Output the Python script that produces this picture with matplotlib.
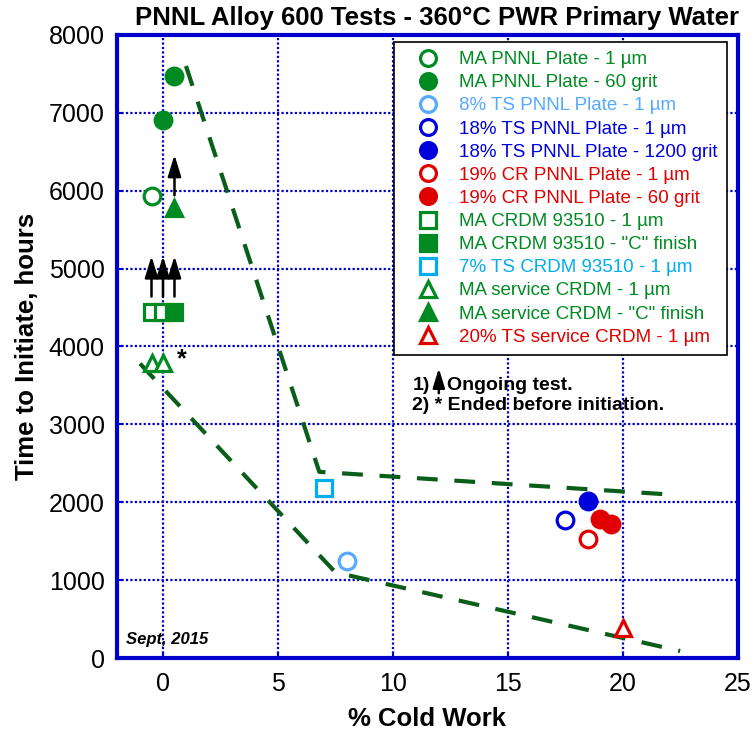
import matplotlib
matplotlib.use('Agg')
import matplotlib.pyplot as plt

plt.rcParams['font.family'] = ['Liberation Sans', 'DejaVu Sans']

GREEN = '#008a22'
LTBLUE = '#55aaff'
CYAN = '#00aeef'
BLUE = '#0000dd'
RED = '#e00000'
DKGREEN = '#0b5e1a'

# data series
ma_plate_1um_x = [-0.5]
ma_plate_1um_y = [5930]
ma_plate_60_x = [0.0, 0.5]
ma_plate_60_y = [6910, 7470]
ts8_plate_x = [8.0]
ts8_plate_y = [1245]
ts18_plate_1um_x = [17.5]
ts18_plate_1um_y = [1770]
ts18_plate_1200_x = [18.5]
ts18_plate_1200_y = [2015]
cr19_plate_1um_x = [18.5]
cr19_plate_1um_y = [1530]
cr19_plate_60_x = [19.0, 19.5]
cr19_plate_60_y = [1785, 1720]
ma_crdm_1um_x = [-0.5, 0.0]
ma_crdm_1um_y = [4440, 4440]
ma_crdm_c_x = [0.5]
ma_crdm_c_y = [4440]
ts7_crdm_x = [7.0]
ts7_crdm_y = [2180]
ma_serv_1um_x = [-0.5, 0.0]
ma_serv_1um_y = [3785, 3785]
ma_serv_c_x = [0.5]
ma_serv_c_y = [5780]
ts20_serv_x = [20.0]
ts20_serv_y = [390]

series = [
    ('MA PNNL Plate - 1 µm', ma_plate_1um_x, ma_plate_1um_y, 'o', False, GREEN),
    ('MA PNNL Plate - 60 grit', ma_plate_60_x, ma_plate_60_y, 'o', True, GREEN),
    ('8% TS PNNL Plate - 1 µm', ts8_plate_x, ts8_plate_y, 'o', False, LTBLUE),
    ('18% TS PNNL Plate - 1 µm', ts18_plate_1um_x, ts18_plate_1um_y, 'o', False, BLUE),
    ('18% TS PNNL Plate - 1200 grit', ts18_plate_1200_x, ts18_plate_1200_y, 'o', True, BLUE),
    ('19% CR PNNL Plate - 1 µm', cr19_plate_1um_x, cr19_plate_1um_y, 'o', False, RED),
    ('19% CR PNNL Plate - 60 grit', cr19_plate_60_x, cr19_plate_60_y, 'o', True, RED),
    ('MA CRDM 93510 - 1 µm', ma_crdm_1um_x, ma_crdm_1um_y, 's', False, GREEN),
    ('MA CRDM 93510 - "C" finish', ma_crdm_c_x, ma_crdm_c_y, 's', True, GREEN),
    ('7% TS CRDM 93510 - 1 µm', ts7_crdm_x, ts7_crdm_y, 's', False, CYAN),
    ('MA service CRDM - 1 µm', ma_serv_1um_x, ma_serv_1um_y, '^', False, GREEN),
    ('MA service CRDM - "C" finish', ma_serv_c_x, ma_serv_c_y, '^', True, GREEN),
    ('20% TS service CRDM - 1 µm', ts20_serv_x, ts20_serv_y, '^', False, RED),
]

# trend lines (dashed)
upper_x = [1.0, 6.8, 22.0]
upper_y = [7600, 2390, 2100]
lower_x = [-1.0, 7.5, 22.5]
lower_y = [3780, 1100, 90]

# ongoing-test arrows: x, start y, end y
arrow_x = [-0.5, 0.0, 0.5, 0.5]
arrow_y0 = [4640, 4640, 4640, 5940]
arrow_y1 = [5160, 5160, 5160, 6460]

ARROW = '-|>,head_width=0.4,head_length=1.3'

fig = plt.figure(figsize=(7.55, 7.34), dpi=100)
ax = fig.add_axes([0.155, 0.1035, 0.822, 0.849])

ax.plot(upper_x, upper_y, color=DKGREEN, lw=3, dashes=(5, 4), zorder=2)
ax.plot(lower_x, lower_y, color=DKGREEN, lw=3, dashes=(5, 4), zorder=2)

handles = []
for label, xs, ys, mk, filled, col in series:
    ms = 12 if mk == 'o' else 11.5
    h, = ax.plot(xs, ys, ls='none', marker=mk, ms=ms, mew=2.3,
                 mec=col, mfc=col if filled else 'white', label=label, zorder=4)
    handles.append(h)

for x, y0, y1 in zip(arrow_x, arrow_y0, arrow_y1):
    ax.annotate('', xy=(x, y1), xytext=(x, y0),
                arrowprops=dict(arrowstyle=ARROW, color='black', lw=1.8,
                                mutation_scale=10, shrinkA=0, shrinkB=0),
                zorder=5)

ax.text(0.6, 3830, '*', fontsize=18, fontweight='bold', ha='left', va='center')

# notes
ax.text(10.85, 3505, '1)', fontsize=14, fontweight='bold', va='center')
ax.annotate('', xy=(12.0, 3720), xytext=(12.0, 3400),
            arrowprops=dict(arrowstyle=ARROW, color='black', lw=1.8,
                            mutation_scale=9, shrinkA=0, shrinkB=0))
ax.text(12.35, 3505, 'Ongoing test.', fontsize=14, fontweight='bold', va='center')
ax.text(10.85, 3248, '2) * Ended before initiation.', fontsize=14,
        fontweight='bold', va='center')
ax.text(-1.6, 244, 'Sept, 2015', fontsize=12, fontweight='bold', style='italic',
        va='center')

ax.set_xlim(-2, 25)
ax.set_ylim(0, 8000)
ax.set_xticks([0, 5, 10, 15, 20, 25])
ax.set_yticks(range(0, 8001, 1000))
ax.tick_params(axis='both', labelsize=18, direction='in', length=4, width=1.5,
               color='#0000cc')
ax.tick_params(axis='y', pad=9)
ax.tick_params(axis='x', pad=10)
ax.grid(True, color='#0000cc', ls=(0, (1, 1)), lw=1.6)
ax.set_axisbelow(True)
for sp in ax.spines.values():
    sp.set_color('#0000cc')
    sp.set_linewidth(3)

ax.set_xlabel('% Cold Work', fontsize=18.5, fontweight='bold', labelpad=8)
ax.set_ylabel('Time to Initiate, hours', fontsize=18.5, fontweight='bold', labelpad=7)
ax.set_title('PNNL Alloy 600 Tests - 360°C PWR Primary Water', fontsize=18.5,
             fontweight='bold', pad=7, x=0.515)

leg = ax.legend(handles=handles, loc='upper right', bbox_to_anchor=(0.983, 0.989),
                fontsize=13.5, frameon=True, fancybox=False, edgecolor='black',
                framealpha=1, handletextpad=0.3, labelspacing=0.32,
                borderpad=0.5, markerscale=0.95, borderaxespad=0,
                handlelength=2.7)
leg.get_frame().set_linewidth(1.2)
for txt, s in zip(leg.get_texts(), series):
    txt.set_color(s[5])

fig.savefig('out.png', dpi=100)
